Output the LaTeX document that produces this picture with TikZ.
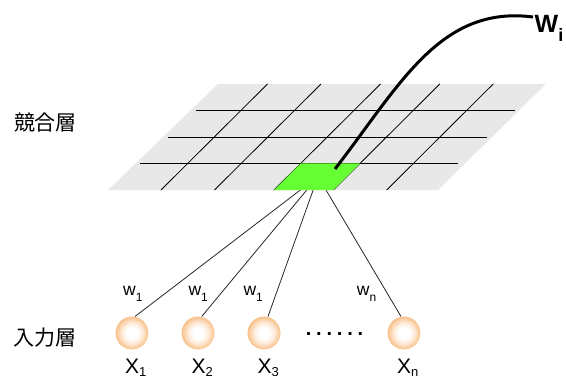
\documentclass[tikz,border=0pt]{standalone}
\usepackage{fontspec}
\setmainfont{Liberation Sans}
\newfontfamily\cjk{Noto Sans CJK JP}
\definecolor{planegray}{HTML}{E8E8E8}
\definecolor{cellgreen}{HTML}{66FF33}
\definecolor{orbout}{HTML}{F2A252}
\definecolor{orbmid}{HTML}{F9C694}
\definecolor{orbin}{HTML}{FEEEDF}
\definecolor{orbrim}{HTML}{E99A4C}
\pgfdeclareradialshading{orb}{\pgfpoint{0bp}{0bp}}{color(0bp)=(white); color(8bp)=(white); color(15bp)=(orbin); color(24bp)=(orbmid); color(32bp)=(orbout); color(35bp)=(orbrim); color(50bp)=(orbrim)}
\newcommand\wsub[1]{\raisebox{-5.5pt}{\fontsize{12}{12}\selectfont #1}}
\newcommand\xsub[1]{\raisebox{-3.4pt}{\fontsize{13}{13}\selectfont #1}}
\tikzset{
  orbnode/.style={circle, minimum size=32.6pt, inner sep=0pt, shading=orb},
  conn/.style={draw=black!85, line width=0.8pt},
  gridline/.style={draw=black, line width=0.8pt},
  wlab/.style={anchor=base west, inner sep=0pt, font=\fontsize{17.5}{17.5}\selectfont},
  xlab/.style={anchor=base west, inner sep=0pt, font=\fontsize{21}{21}\selectfont},
  layerlab/.style={inner sep=0pt, font=\cjk\fontsize{21}{21}\selectfont},
}
\begin{document}
\begin{tikzpicture}[x=1pt,y=-1pt]
\useasboundingbox (0,0) rectangle (566,380);
% nodes
\coordinate (c) at (318,176.5);
\node[orbnode] (b1) at (132,333) {};
\node[orbnode] (b2) at (198,333) {};
\node[orbnode] (b3) at (264,333) {};
\node[orbnode] (b4) at (404,333) {};
% connectors (under the plane)
\draw[conn] (c) -- ([xshift=3pt]b1.north);
\draw[conn] (c) -- ([xshift=3.7pt]b2.north);
\draw[conn] (c) -- ([xshift=4pt]b3.north);
\draw[conn] (c) -- ([xshift=-3pt]b4.north);
% redraw balls on top of connectors
\foreach \p in {b1,b2,b3,b4} { \shade[shading=orb] (\p) circle (16.3pt); }
% competitive layer plane
\fill[planegray] (108,190) -- (438,190) -- (546,84) -- (218,84) -- cycle;
\draw[gridline] (196,110.7) -- (515,110.7);
\draw[gridline] (168,137.3) -- (487,137.3);
\draw[gridline] (140,163.3) -- (458,163.3);
\draw[gridline] (161,190) -- (267.5,84);
\draw[gridline] (214.5,190) -- (321,84);
\draw[gridline] (274,190) -- (380.5,84);
\draw[gridline] (333.3,190) -- (439.8,84);
\draw[gridline] (386.7,190) -- (493.2,84);
\fill[cellgreen] (274,190) -- (333.3,190) -- (360.1,163.3) -- (300.8,163.3) -- cycle;
% weight vector curve
\coordinate (wend) at (533,17);
\coordinate (wstart) at (335,169);
\draw[line width=3pt] (wstart) .. controls (400,85) and (440,5) .. (wend);
\node[anchor=base west, inner sep=0pt] (wi) at (534.5,32.3) {\fontsize{25}{25}\selectfont\bfseries W\raisebox{-9.4pt}{\fontsize{18}{18}\selectfont i}};
% labels
\node[layerlab] (comp) at (45.5,123) {競合層};
\node[layerlab] (inp) at (45,337.5) {入力層};
\node[wlab] (w1) at (123,295.5) {w\wsub{1}};
\node[wlab] (w2) at (188.3,295.5) {w\wsub{1}};
\node[wlab] (w3) at (243.3,295.5) {w\wsub{1}};
\node[wlab] (wn) at (356.7,295.5) {w\wsub{n}};
\node[xlab] (x1) at (125,373.3) {X\xsub{1}};
\node[xlab] (x2) at (191.5,373.3) {X\xsub{2}};
\node[xlab] (x3) at (257.5,373.3) {X\xsub{3}};
\node[xlab] (xn) at (397,373.3) {X\xsub{n}};
\node[anchor=base, inner sep=0pt, font=\fontsize{20}{20}\selectfont\bfseries] (dots) at (334.5,335.5) {.\hspace{4.8pt}.\hspace{4.8pt}.\hspace{4.8pt}.\hspace{4.8pt}.\hspace{4.8pt}.};
\end{tikzpicture}
\end{document}
